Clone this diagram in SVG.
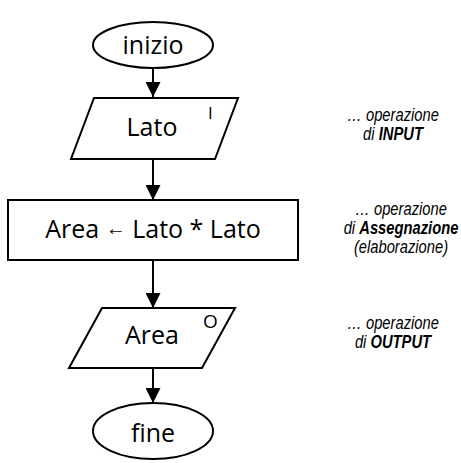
<svg xmlns="http://www.w3.org/2000/svg" width="461" height="463" viewBox="0 0 461 463">
<style>
.sh{fill:#fff;stroke:#000;stroke-width:2}
.t{font-family:"Open Sans","Noto Sans",sans-serif;font-size:25px;fill:#000;text-anchor:middle}
.s{font-family:"Open Sans","Noto Sans",sans-serif;fill:#000}
.n{font-family:"Liberation Sans",Arial,sans-serif;font-size:18px;font-style:italic;fill:#000;text-anchor:middle}
.b{font-weight:bold}
.c{stroke:#000;stroke-width:2;fill:none}
</style>
<defs>
<marker id="ah" markerUnits="userSpaceOnUse" markerWidth="16" markerHeight="15" refX="15" refY="7.5" orient="auto">
<path d="M0,0 L15,7.5 L0,15 Z" fill="#000"/>
</marker>
</defs>
<g id="connectors">
<line class="c" x1="153" y1="68" x2="153" y2="97" marker-end="url(#ah)"/>
<line class="c" x1="153" y1="159" x2="153" y2="200" marker-end="url(#ah)"/>
<line class="c" x1="153" y1="260" x2="153" y2="308" marker-end="url(#ah)"/>
<line class="c" x1="153" y1="368" x2="153" y2="403" marker-end="url(#ah)"/>
</g>
<g id="inizio">
<ellipse class="sh" cx="153" cy="45" rx="60" ry="23"/>
<text class="t" x="153" y="54">inizio</text>
</g>
<g id="input">
<polygon class="sh" points="94,98 238,98 215,159 71,159"/>
<text class="t" x="152" y="136">Lato</text>
<text class="s" x="208" y="119" font-size="17">I</text>
</g>
<g id="assegnazione">
<rect class="sh" x="8" y="200" width="290" height="60"/>
<text class="t" x="153" y="238">Area <tspan font-size="20" dy="-3">←</tspan><tspan dy="3"> Lato * Lato</tspan></text>
</g>
<g id="output">
<polygon class="sh" points="102,308 235,308 202,368 69,368"/>
<text class="t" x="152" y="344">Area</text>
<text class="s" x="203" y="328" font-size="19">O</text>
</g>
<g id="fine">
<ellipse class="sh" cx="153" cy="431" rx="60" ry="28"/>
<text class="t" x="153" y="442">fine</text>
</g>
<g id="notes">
<text class="n" transform="translate(393,121) scale(0.82,1)">… operazione</text>
<text class="n" transform="translate(393,140) scale(0.82,1)">di <tspan class="b">INPUT</tspan></text>
<text class="n" transform="translate(401,215) scale(0.82,1)">… operazione</text>
<text class="n" transform="translate(401,234) scale(0.82,1)">di <tspan class="b">Assegnazione</tspan></text>
<text class="n" transform="translate(401,253) scale(0.82,1)">(elaborazione)</text>
<text class="n" transform="translate(393,329) scale(0.82,1)">… operazione</text>
<text class="n" transform="translate(393,348) scale(0.82,1)">di <tspan class="b">OUTPUT</tspan></text>
</g>
</svg>
